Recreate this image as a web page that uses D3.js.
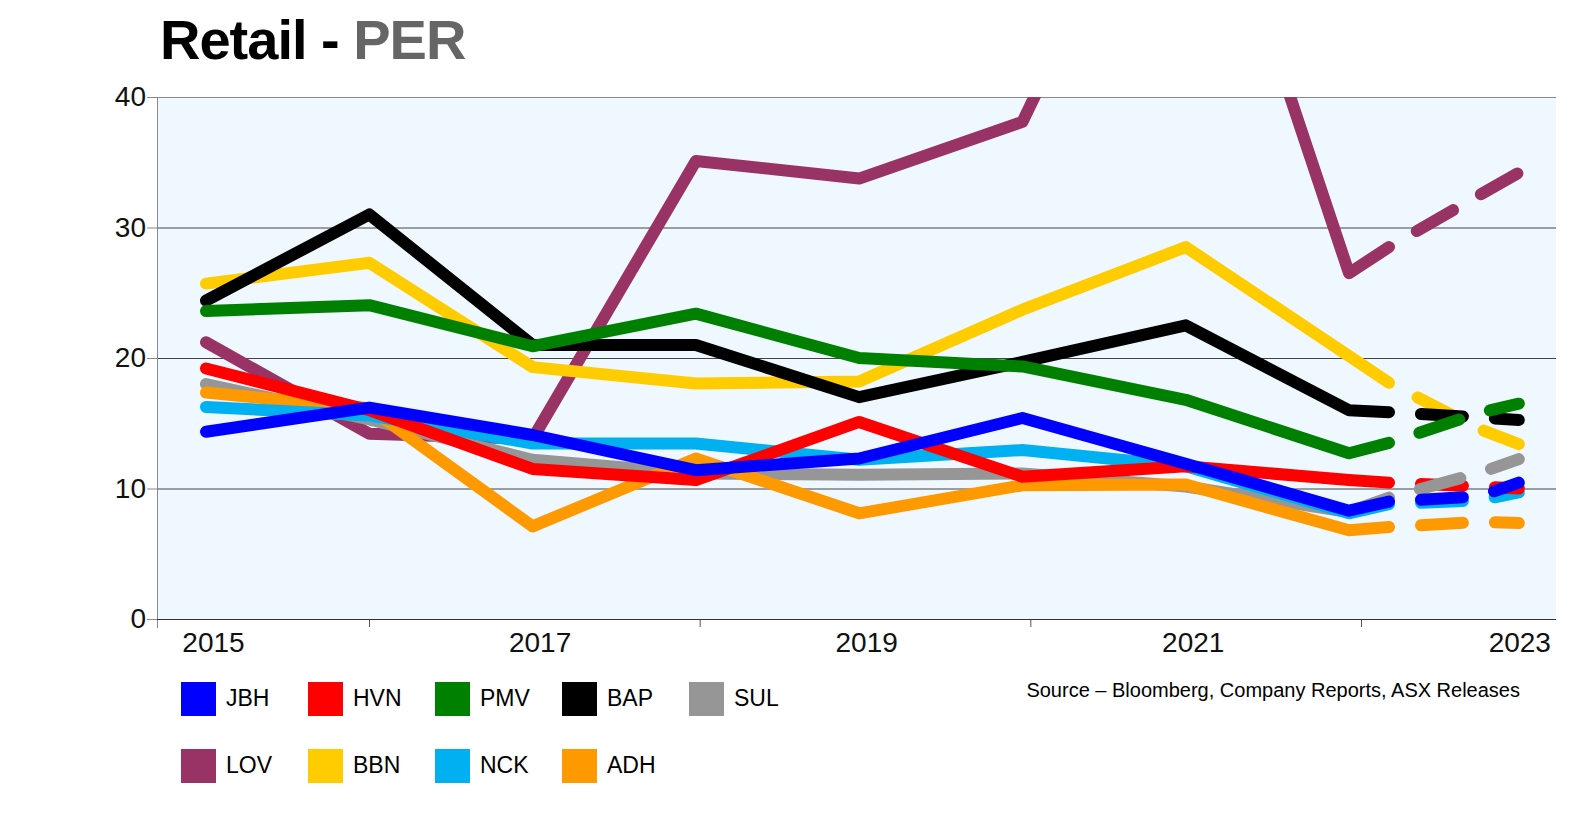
<!DOCTYPE html>
<html>
<head>
<meta charset="utf-8">
<script src="https://cdn.jsdelivr.net/npm/d3@7"></script>
<style>
  html, body { margin: 0; padding: 0; background: #ffffff; }
  svg { display: block; }
  text { font-family: "Liberation Sans", Arial, Helvetica, sans-serif; }
</style>
</head>
<body>
<svg id="chart" width="1587" height="820"></svg>
<script>
// ---------------- DATA ----------------
const actualX   = [2015, 2016, 2017, 2018, 2019, 2020, 2021, 2022, 2022.245];
const forecastX = [2022.245, 2022.8, 2023.04];

const seriesNames  = ["JBH", "HVN", "PMV", "BAP", "SUL", "LOV", "BBN", "NCK", "ADH"];
const seriesColors = ["#0000FF", "#FF0000", "#008000", "#000000", "#969696", "#993366", "#FFCC00", "#00B0F0", "#FF9900"];

const JBH = [14.35, 16.2, 14.1, 11.4, 12.3, 15.4, 11.9, 8.3, 9.0];
const HVN = [19.2, 16.0, 11.5, 10.65, 15.1, 10.9, 11.7, 10.65, 10.45];
const PMV = [23.6, 24.05, 20.9, 23.4, 20.0, 19.35, 16.8, 12.7, 13.5];
const BAP = [24.4, 31.0, 21.0, 21.0, 17.0, 19.7, 22.5, 16.0, 15.85];
const SUL = [18.0, 15.3, 12.2, 11.15, 11.05, 11.15, 10.15, 8.2, 9.3];
const LOV = [21.2, 14.2, 13.8, 35.1, 33.75, 38.1, 64.0, 26.5, 28.5];
const BBN = [25.7, 27.3, 19.3, 18.05, 18.2, 23.7, 28.5, 20.15, 18.1];
const NCK = [16.25, 15.6, 13.45, 13.45, 12.2, 12.95, 11.7, 8.1, 8.8];
const ADH = [17.35, 16.15, 7.1, 12.3, 8.1, 10.25, 10.3, 6.8, 7.05];

const JBH_f = [9.0, 9.4, 10.45];
const HVN_f = [10.45, 10.15, 10.0];
const PMV_f = [13.5, 15.8, 16.5];
const BAP_f = [15.85, 15.45, 15.25];
const SUL_f = [9.3, 11.2, 12.25];
const LOV_f = [28.5, 32.5, 34.2];
const BBN_f = [18.1, 14.55, 13.4];
const NCK_f = [8.8, 9.1, 9.7];
const ADH_f = [7.05, 7.45, 7.35];

const yTicks = [0, 10, 20, 30, 40];
const xLabelYears = [2015, 2017, 2019, 2021, 2023];
const xTickYears = [2016, 2018, 2020, 2022];

const actualByName = {JBH, HVN, PMV, BAP, SUL, LOV, BBN, NCK, ADH};
const forecastByName = {JBH: JBH_f, HVN: HVN_f, PMV: PMV_f, BAP: BAP_f, SUL: SUL_f, LOV: LOV_f, BBN: BBN_f, NCK: NCK_f, ADH: ADH_f};

// drawing order (bottom -> top)
const solidOrder = ["LOV", "SUL", "ADH", "NCK", "BBN", "BAP", "PMV", "HVN", "JBH"];
const dashOrder  = ["LOV", "ADH", "NCK", "BBN", "BAP", "HVN", "SUL", "PMV", "JBH"];

// ---------------- LAYOUT ----------------
const plot = {left: 157, right: 1556, top: 97, bottom: 619};
const svg = d3.select("#chart");
const colorOf = name => seriesColors[seriesNames.indexOf(name)];

const x = d3.scaleLinear().domain([2015, 2022]).range([206, 1349]);
const xTickScale = d3.scaleLinear().domain([2016, 2022]).range([369, 1361]);
const y = d3.scaleLinear().domain([0, 40]).range([plot.bottom, plot.top]);

// Title
const title = svg.append("text")
  .attr("x", 160).attr("y", 59)
  .style("font-size", "56px").style("font-weight", "bold")
  .style("letter-spacing", "-1px");
title.append("tspan").attr("fill", "#000").text("Retail - ");
title.append("tspan").attr("fill", "#666666").text("PER");

// plot background
svg.append("rect")
  .attr("x", plot.left).attr("y", plot.top)
  .attr("width", plot.right - plot.left).attr("height", plot.bottom - plot.top)
  .attr("fill", "#F0F8FF");

// gridlines
svg.append("g").selectAll("line")
  .data(yTicks.filter(t => t > 0))
  .join("line")
  .attr("x1", plot.left).attr("x2", plot.right)
  .attr("y1", d => y(d) + 0.5).attr("y2", d => y(d) + 0.5)
  .attr("stroke", d => d === 40 ? "#8a8a8a" : "#444")
  .attr("stroke-width", 1);

// Y axis
const yAxis = svg.append("g")
  .attr("transform", `translate(${plot.left},0)`)
  .call(d3.axisLeft(y).tickValues(yTicks).tickSize(10).tickPadding(1).tickFormat(d3.format("d")));
yAxis.select(".domain").remove();
yAxis.selectAll(".tick line").attr("stroke", "#888");
yAxis.selectAll(".tick text")
  .style("font-size", "28px").attr("fill", "#111")
  .style("font-family", "'Liberation Sans', Arial, sans-serif");
svg.append("line")
  .attr("x1", plot.left + 0.5).attr("x2", plot.left + 0.5)
  .attr("y1", plot.top).attr("y2", plot.bottom + 9)
  .attr("stroke", "#888").attr("stroke-width", 1);

// X axis labels
const xAxis = svg.append("g")
  .attr("transform", `translate(0,${plot.bottom})`)
  .call(d3.axisBottom(x).tickValues(xLabelYears).tickSize(0).tickPadding(13).tickFormat(d3.format("d")));
xAxis.select(".domain").remove();
xAxis.selectAll(".tick text")
  .attr("dx", 7)
  .style("font-size", "28px").attr("fill", "#111");

// X tick marks
const xTickAxis = svg.append("g")
  .attr("transform", `translate(0,${plot.bottom})`)
  .call(d3.axisBottom(xTickScale).tickValues(xTickYears).tickSize(8).tickFormat(""));
xTickAxis.select(".domain").remove();
xTickAxis.selectAll(".tick line").attr("stroke", "#555");

svg.append("line")
  .attr("x1", plot.left).attr("x2", plot.right)
  .attr("y1", plot.bottom + 0.5).attr("y2", plot.bottom + 0.5)
  .attr("stroke", "#333").attr("stroke-width", 1.2);

// clip
svg.append("clipPath").attr("id", "plotClip")
  .append("rect")
  .attr("x", plot.left).attr("y", plot.top)
  .attr("width", plot.right - plot.left).attr("height", plot.bottom - plot.top);

const line = d3.line().x(d => x(d[0])).y(d => y(d[1]));
const lines = svg.append("g").attr("clip-path", "url(#plotClip)");

solidOrder.forEach(name => {
  const pts = actualX.map((xv, i) => [xv, actualByName[name][i]]);
  lines.append("path")
    .attr("d", line(pts))
    .attr("fill", "none")
    .attr("stroke", colorOf(name))
    .attr("stroke-width", 12)
    .attr("stroke-linecap", "round")
    .attr("stroke-linejoin", "round");
});

dashOrder.forEach(name => {
  const pts = forecastX.map((xv, i) => [xv, forecastByName[name][i]]);
  lines.append("path")
    .attr("d", line(pts))
    .attr("fill", "none")
    .attr("stroke", colorOf(name))
    .attr("stroke-width", 12)
    .attr("stroke-linecap", "round")
    .attr("stroke-linejoin", "round")
    .attr("stroke-dasharray", "42,32")
    .attr("stroke-dashoffset", 42);
});

// Legend
const legend = svg.append("g");
seriesNames.forEach((name, i) => {
  const col = i % 5, row = Math.floor(i / 5);
  const lx = 181 + 127 * col, ly = 682 + 67 * row;
  legend.append("rect")
    .attr("x", lx).attr("y", ly).attr("width", 35).attr("height", 34)
    .attr("fill", seriesColors[i]);
  legend.append("text")
    .attr("x", lx + 45).attr("y", ly + 24)
    .style("font-size", "23px").attr("fill", "#000")
    .text(name);
});

// Source
svg.append("text")
  .attr("x", 1520).attr("y", 697)
  .attr("text-anchor", "end")
  .style("font-size", "20px").attr("fill", "#000")
  .text("Source \u2013 Bloomberg, Company Reports, ASX Releases");
</script>
</body>
</html>
